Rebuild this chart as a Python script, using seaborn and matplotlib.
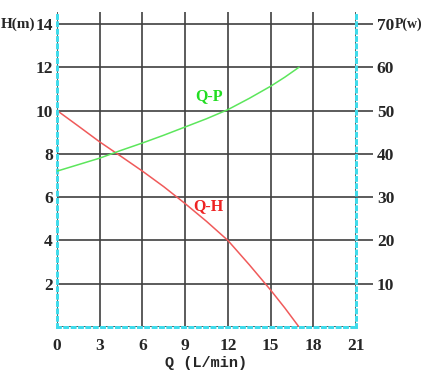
import matplotlib
matplotlib.use("Agg")
import matplotlib.pyplot as plt
import seaborn as sns
import pandas as pd

# flow (L/min) vs head (m)
q_h = [0, 1.5, 3, 4.5, 6, 7.5, 9, 10.5, 12, 13.5, 15, 16, 17]
head = [10, 9.28, 8.55, 7.88, 7.2, 6.48, 5.7, 4.88, 4.0, 2.88, 1.71, 0.88, 0]

# flow (L/min) vs power (W)
q_p = [0, 1.5, 3, 4.5, 6, 7.5, 9, 10.5, 12, 13.5, 15, 16, 17]
power = [36, 37.5, 39, 40.8, 42.5, 44.3, 46.2, 48.1, 50.2, 52.8, 55.6, 57.7, 60]

x_ticks = [0, 3, 6, 9, 12, 15, 18, 21]
h_ticks = [2, 4, 6, 8, 10, 12, 14]
p_ticks = [10, 20, 30, 40, 50, 60, 70]

sns.set_style('white')
plt.rcParams['font.family'] = ['Liberation Serif', 'DejaVu Serif']

fig = plt.figure(figsize=(4.23, 3.73), dpi=100)
ax = fig.add_axes([0.1348, 0.1233, 0.7068, 0.8445])
ax2 = ax.twinx()

grid_col = '#404040'
cyan = '#3fdcec'
ymax = 14.55

df_h = pd.DataFrame({'Q': q_h, 'H': head})
df_p = pd.DataFrame({'Q': q_p, 'P': power})

# grid
for xv in x_ticks:
    ax.axvline(xv, color=grid_col, lw=1.2, zorder=1)
for yv in [0] + h_ticks:
    ax.axhline(yv, color=grid_col, lw=1.2, zorder=1)

sns.lineplot(data=df_h, x='Q', y='H', ax=ax, color='#f05a5a', lw=1.1, zorder=3)
sns.lineplot(data=df_p, x='Q', y='P', ax=ax2, color='#5ce65c', lw=1.1, zorder=3)

ax.set_xlim(0, 21)
ax.set_ylim(0, ymax)
ax2.set_ylim(0, ymax * 5)

ax.set_xticks(x_ticks)
ax.set_yticks(h_ticks)
ax2.set_yticks(p_ticks)
ax.tick_params(axis='both', length=0, labelsize=12.5, pad=3)
ax.tick_params(axis='x', pad=8)
ax2.tick_params(axis='y', length=12, width=1.2, color=grid_col, labelsize=12.5, pad=3)
for lab in ax.get_xticklabels() + ax.get_yticklabels() + ax2.get_yticklabels():
    lab.set_fontweight('bold')

ax.set_xlabel('Q (L/min)', fontsize=11, fontweight='bold', family='Liberation Mono', labelpad=1)
ax.set_ylabel('')
ax2.set_ylabel('')

for a in (ax, ax2):
    a.spines['top'].set_visible(False)
    for s in ('left', 'right', 'bottom'):
        a.spines[s].set_color(cyan)
        a.spines[s].set_linestyle(':')
        a.spines[s].set_linewidth(2)

fig.text(35 / 423, 1 - 24 / 373, 'H(m)', ha='right', va='center', fontsize=11, fontweight='bold')
fig.text(395 / 423, 1 - 24 / 373, 'P(w)', ha='left', va='center', fontsize=10, fontweight='bold')

ax.text(10.7, 10.65, 'Q-P', color='#22dd22', ha='center', va='center',
        fontsize=11.5, fontweight='bold')
ax.text(10.6, 5.6, 'Q-H', color='#ee2222', ha='center', va='center',
        fontsize=11.5, fontweight='bold')

fig.savefig('out.png', dpi=100)
